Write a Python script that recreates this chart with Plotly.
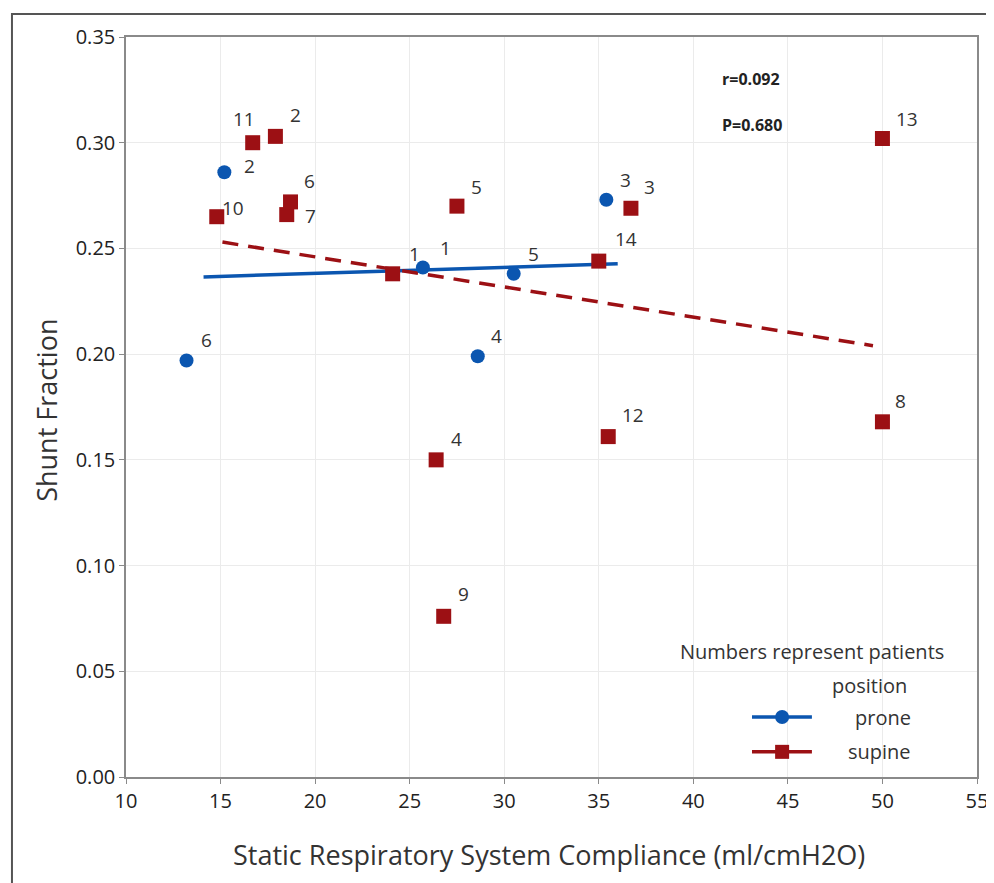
import plotly.graph_objects as go

# ---------------- data ----------------
prone_ids = ["6", "2", "1", "4", "5", "3"]
prone_x = [13.2, 15.2, 25.7, 28.6, 30.5, 35.4]
prone_y = [0.197, 0.286, 0.241, 0.199, 0.238, 0.273]

supine_ids = ["10", "11", "2", "7", "6", "1", "4", "9", "5", "14", "12", "3", "13", "8"]
supine_x = [14.8, 16.7, 17.9, 18.5, 18.7, 24.1, 26.4, 26.8, 27.5, 35.0, 35.5, 36.7, 50.0, 50.0]
supine_y = [0.265, 0.300, 0.303, 0.266, 0.272, 0.238, 0.150, 0.076, 0.270, 0.244, 0.161, 0.269, 0.302, 0.168]

prone_fit_x = [14.1, 36.0]
prone_fit_y = [0.2365, 0.2427]
supine_fit_x = [15.1, 49.5]
supine_fit_y = [0.253, 0.204]

x_ticks = [10, 15, 20, 25, 30, 35, 40, 45, 50, 55]
y_ticks = [0.00, 0.05, 0.10, 0.15, 0.20, 0.25, 0.30, 0.35]
stats_text = ["r=0.092", "P=0.680"]

# ---------------- style ----------------
BLUE = "#0b56b0"
RED = "#9c1014"
FONT = "Open Sans"
TXT = "#333333"

# label offsets (px) for patient numbers: (right, up)
prone_off = [(20, 20), (25, 6), (23, 19), (19, 20), (20, 20), (19, 20)]
supine_off = [(16, 9), (-9, 24), (20, 21), (24, -1), (19, 21), (22, 20), (20, 21),
              (20, 22), (20, 19), (27, 22), (25, 22), (19, 21), (25, 19), (18, 21)]

fig = go.Figure()

fig.add_trace(go.Scatter(x=prone_fit_x, y=prone_fit_y, mode="lines",
                         line=dict(color=BLUE, width=3.5), showlegend=False, hoverinfo="skip"))
fig.add_trace(go.Scatter(x=supine_fit_x, y=supine_fit_y, mode="lines",
                         line=dict(color=RED, width=3.5, dash="16px,10px"), showlegend=False, hoverinfo="skip"))
fig.add_trace(go.Scatter(x=prone_x, y=prone_y, mode="markers", name="prone",
                         marker=dict(symbol="circle", size=14, color=BLUE), showlegend=False))
fig.add_trace(go.Scatter(x=supine_x, y=supine_y, mode="markers", name="supine",
                         marker=dict(symbol="square", size=15, color=RED), showlegend=False))


def note(x, y, text, size, xanchor="center", angle=0, color=TXT, xref="paper", yref="paper",
         dx=0, dy=0):
    return dict(x=x, y=y, xref=xref, yref=yref, text=text, showarrow=False,
                xanchor=xanchor, yanchor="middle", textangle=angle, xshift=dx, yshift=dy,
                font=dict(family=FONT, size=size, color=color))


annotations = []
for xs, ys, ids, offs in ((prone_x, prone_y, prone_ids, prone_off),
                          (supine_x, supine_y, supine_ids, supine_off)):
    for xv, yv, t, (dx, dy) in zip(xs, ys, ids, offs):
        annotations.append(note(xv, yv, t, 19, xref="x", yref="y", dx=dx, dy=dy))

# stats text
annotations.append(note(0.698, 0.943, "<b>" + stats_text[0] + "</b>", 16, xanchor="left", color="#222"))
annotations.append(note(0.698, 0.881, "<b>" + stats_text[1] + "</b>", 16, xanchor="left", color="#222"))

# axis titles
annotations.append(note(-0.093, 0.496, "Shunt Fraction", 27, angle=-90))
annotations.append(note(0.497, -0.105, "Static Respiratory System Compliance (ml/cmH2O)", 27))

# legend texts
annotations.append(note(0.806, 0.170, "Numbers represent patients", 20))
annotations.append(note(0.874, 0.124, "position", 20))
annotations.append(note(0.889, 0.081, "prone", 20))
annotations.append(note(0.886, 0.034, "supine", 20))

# legend glyphs on an overlay axis spanning the plot area
leg_x = [0.7356, 0.806]
leg_mid = [0.771]
for yy, col, sym in ((0.081, BLUE, "circle"), (0.034, RED, "square")):
    fig.add_trace(go.Scatter(x=leg_x, y=[yy] * 2, xaxis="x2", yaxis="y2", mode="lines",
                             line=dict(color=col, width=3.5), showlegend=False, hoverinfo="skip"))
    fig.add_trace(go.Scatter(x=leg_mid, y=[yy], xaxis="x2", yaxis="y2", mode="markers",
                             marker=dict(symbol=sym, size=14, color=col, opacity=1,
                                         line=dict(width=0)),
                             showlegend=False, hoverinfo="skip"))

shapes = [dict(type="rect", xref="paper", yref="paper", x0=-0.134, x1=1.019, y0=-0.2, y1=1.031,
               line=dict(color="#555555", width=2), fillcolor="rgba(0,0,0,0)", layer="below")]

fig.update_layout(
    width=994, height=883,
    margin=dict(l=118, r=25, t=29, b=114),
    paper_bgcolor="white", plot_bgcolor="white",
    showlegend=False,
    annotations=annotations,
    shapes=shapes,
    xaxis=dict(range=[10, 55], tickvals=x_ticks, ticktext=[str(v) for v in x_ticks],
               showgrid=True, gridcolor="#ebebeb", gridwidth=1, zeroline=False,
               showline=True, linecolor="#8a8a8a", linewidth=1.5, mirror=True,
               ticks="outside", ticklen=5, tickcolor="#8a8a8a",
               tickfont=dict(family=FONT, size=20, color="#222")),
    yaxis=dict(range=[0, 0.35], tickvals=y_ticks, ticktext=[f"{v:.2f}" for v in y_ticks],
               showgrid=True, gridcolor="#ebebeb", gridwidth=1, zeroline=False,
               showline=True, linecolor="#8a8a8a", linewidth=1.5, mirror=True,
               ticks="outside", ticklen=5, tickcolor="#8a8a8a",
               tickfont=dict(family=FONT, size=20, color="#222")),
    xaxis2=dict(range=[0, 1], overlaying="x", visible=False, fixedrange=True),
    yaxis2=dict(range=[0, 1], overlaying="y", visible=False, fixedrange=True),
)

fig.write_html("out.html")
